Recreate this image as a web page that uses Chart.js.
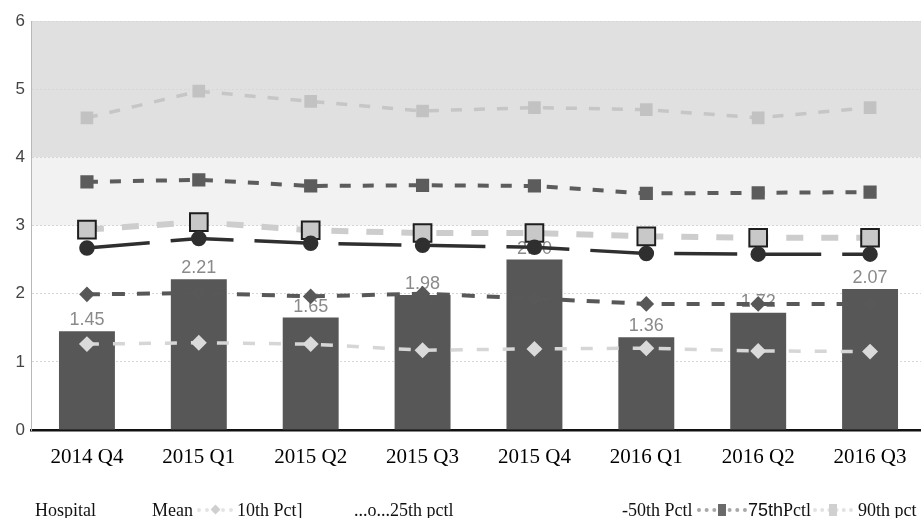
<!DOCTYPE html>
<html>
<head>
<meta charset="utf-8">
<script src="https://cdn.jsdelivr.net/npm/chart.js@4/dist/chart.umd.min.js"></script>
<style>
  html, body { margin: 0; padding: 0; background: #fff; overflow: hidden; width: 921px; height: 518px; }
  #wrap { position: relative; width: 921px; height: 518px; overflow: hidden; }
  canvas { position: absolute; left: 0; top: 0; }
  .lg { position: absolute; top: 500px; line-height: 18px; font: 18px "Liberation Serif", "Times New Roman", serif; color: #111; white-space: nowrap; }
  .sans { font-family: "Liberation Sans", Arial, sans-serif; }
  .mk { position: absolute; top: 508px; height: 0; border-top: 4px dotted; }
  .mk i { position: absolute; left: 50%; }
</style>
</head>
<body>
<div id="wrap">
  <canvas id="c" width="928" height="518"></canvas>
</div>
<script>
// Quarterly hospital rate against the peer-group mean and percentiles
const categories = ['2014 Q4', '2015 Q1', '2015 Q2', '2015 Q3', '2015 Q4', '2016 Q1', '2016 Q2', '2016 Q3'];
const hospital = [1.45, 2.21, 1.65, 1.98, 2.50, 1.36, 1.72, 2.07];
const mean     = [2.67, 2.81, 2.74, 2.71, 2.68, 2.59, 2.58, 2.58];
const pct10    = [1.26, 1.28, 1.26, 1.17, 1.19, 1.20, 1.16, 1.15];
const pct25    = [1.99, 2.01, 1.96, 2.00, 1.93, 1.85, 1.85, 1.85];
const pct50    = [2.94, 3.05, 2.93, 2.89, 2.89, 2.84, 2.82, 2.82];
const pct75    = [3.64, 3.67, 3.58, 3.59, 3.58, 3.47, 3.48, 3.49];
const pct90    = [4.58, 4.97, 4.82, 4.68, 4.73, 4.70, 4.58, 4.73];
const yMin = 0, yMax = 6, yStep = 1;

const legendLabels = ['Hospital', 'Mean', '10th Pct]', '...o...25th pctl', '-50th Pctl', '75th', 'Pctl', '90th pct'];

// Shaded bands behind the plot
const bands = {
  id: 'bands',
  beforeDraw(chart) {
    const { ctx, chartArea: a, scales: { y } } = chart;
    ctx.save();
    ctx.fillStyle = '#e0e0e0';
    ctx.fillRect(a.left, y.getPixelForValue(6), a.right - a.left, y.getPixelForValue(4) - y.getPixelForValue(6));
    ctx.fillStyle = '#f2f2f2';
    ctx.fillRect(a.left, y.getPixelForValue(4), a.right - a.left, y.getPixelForValue(3) - y.getPixelForValue(4));
    ctx.restore();
  }
};

// Value labels above the hospital bars
const barLabels = {
  id: 'barLabels',
  afterDatasetDraw(chart, args) {
    if (args.index !== 0) return;
    const { ctx } = chart;
    const meta = chart.getDatasetMeta(0);
    ctx.save();
    ctx.font = '18px "Liberation Sans", Arial, sans-serif';
    ctx.fillStyle = '#8a8a8a';
    ctx.textAlign = 'center';
    ctx.textBaseline = 'alphabetic';
    meta.data.forEach((bar, i) => {
      ctx.fillText(hospital[i].toFixed(2), bar.x, bar.y - 6);
    });
    ctx.restore();
  }
};

new Chart(document.getElementById('c'), {
  type: 'bar',
  data: {
    labels: categories,
    datasets: [
      { type: 'bar', label: legendLabels[0], data: hospital, backgroundColor: '#575757',
        categoryPercentage: 1, barPercentage: 0.5, order: 10 },
      { type: 'line', label: '10th Pct', data: pct10, borderColor: '#d6d6d6', borderWidth: 3.5,
        borderDash: [12, 14], pointStyle: 'rectRot', pointRadius: 5.5, pointBackgroundColor: '#dadada',
        pointBorderColor: '#dadada', fill: false, tension: 0, order: 7 },
      { type: 'line', label: '25th Pctl', data: pct25, borderColor: '#585858', borderWidth: 4,
        borderDash: [13, 12], pointStyle: 'rectRot', pointRadius: 5, pointBackgroundColor: '#585858',
        pointBorderColor: '#585858', fill: false, tension: 0, order: 6 },
      { type: 'line', label: '90th Pctl', data: pct90, borderColor: '#c6c6c6', borderWidth: 3.5,
        borderDash: [11, 12], pointStyle: 'rect', pointRadius: 6.5, pointBackgroundColor: '#c2c2c2',
        pointBorderColor: '#c2c2c2', fill: false, tension: 0, order: 5 },
      { type: 'line', label: '75th Pctl', data: pct75, borderColor: '#5c5c5c', borderWidth: 4,
        borderDash: [11, 12], pointStyle: 'rect', pointRadius: 6.5, pointBackgroundColor: '#5c5c5c',
        pointBorderColor: '#5c5c5c', fill: false, tension: 0, order: 4 },
      { type: 'line', label: '50th Pctl', data: pct50, borderColor: '#cdcdcd', borderWidth: 6,
        borderDash: [17, 18], pointStyle: 'rect', pointRadius: 12.5, pointBackgroundColor: '#c8c8c8',
        pointBorderColor: '#1e1e1e', pointBorderWidth: 2, fill: false, tension: 0, order: 3 },
      { type: 'line', label: 'Mean', data: mean, borderColor: '#2f2f2f', borderWidth: 3.5,
        borderDash: [63, 21], pointStyle: 'circle', pointRadius: 6, pointBackgroundColor: '#2f2f2f',
        pointBorderColor: '#2f2f2f', fill: false, tension: 0, order: 1 }
    ]
  },
  options: {
    responsive: false,
    animation: false,
    layout: { autoPadding: false, padding: { left: 0, right: 2, top: 21, bottom: 0 } },
    plugins: { legend: { display: false }, tooltip: { enabled: false } },
    scales: {
      x: {
        grid: { display: false },
        border: { display: true, color: '#111', width: 2.5 },
        ticks: { color: '#000', padding: 7, maxRotation: 0,
          font: { family: '"Liberation Serif", "Times New Roman", serif', size: 21 } },
        afterFit(scale) { scale.height = 88; }
      },
      y: {
        min: yMin, max: yMax,
        grid: { color: '#d6d6d6', lineWidth: 1, drawTicks: false },
        border: { display: true, color: '#b8b8b8', width: 1, dash: [2, 2] },
        ticks: { stepSize: yStep, color: '#444', padding: 6,
          font: { family: '"Liberation Sans", Arial, sans-serif', size: 17 } },
        afterFit(scale) { scale.width = 31; }
      }
    }
  },
  plugins: [bands, barLabels]
});

// Legend row beneath the axis
const wrap = document.getElementById('wrap');
function addText(txt, left, cls) {
  const d = document.createElement('div');
  d.className = 'lg' + (cls ? ' ' + cls : '');
  d.style.left = left + 'px';
  d.textContent = txt;
  wrap.appendChild(d);
  return d;
}
function addMarker(left, width, dotColor, mark) {
  const m = document.createElement('div');
  m.className = 'mk';
  m.style.left = left + 'px';
  m.style.width = width + 'px';
  m.style.borderColor = dotColor;
  const i = document.createElement('i');
  Object.assign(i.style, mark);
  m.appendChild(i);
  wrap.appendChild(m);
}
addText(legendLabels[0], 35);
addText(legendLabels[1], 152);
addMarker(197, 36, '#e4e4e4', { width: '7px', height: '7px', background: '#cfcfcf', transform: 'rotate(45deg)', marginLeft: '-3px', top: '-6px' });
addText(legendLabels[2], 237);
addText(legendLabels[3], 354);
addText(legendLabels[4], 622);
addMarker(697, 50, '#a8a8a8', { width: '8px', height: '12px', background: '#6a6a6a', marginLeft: '-4px', top: '-8px' });
addText(legendLabels[5], 748, 'sans');
addText(legendLabels[6], 783);
addMarker(813, 40, '#e2e2e2', { width: '8px', height: '12px', background: '#d0d0d0', marginLeft: '-4px', top: '-8px' });
addText(legendLabels[7], 858);
</script>
</body>
</html>
